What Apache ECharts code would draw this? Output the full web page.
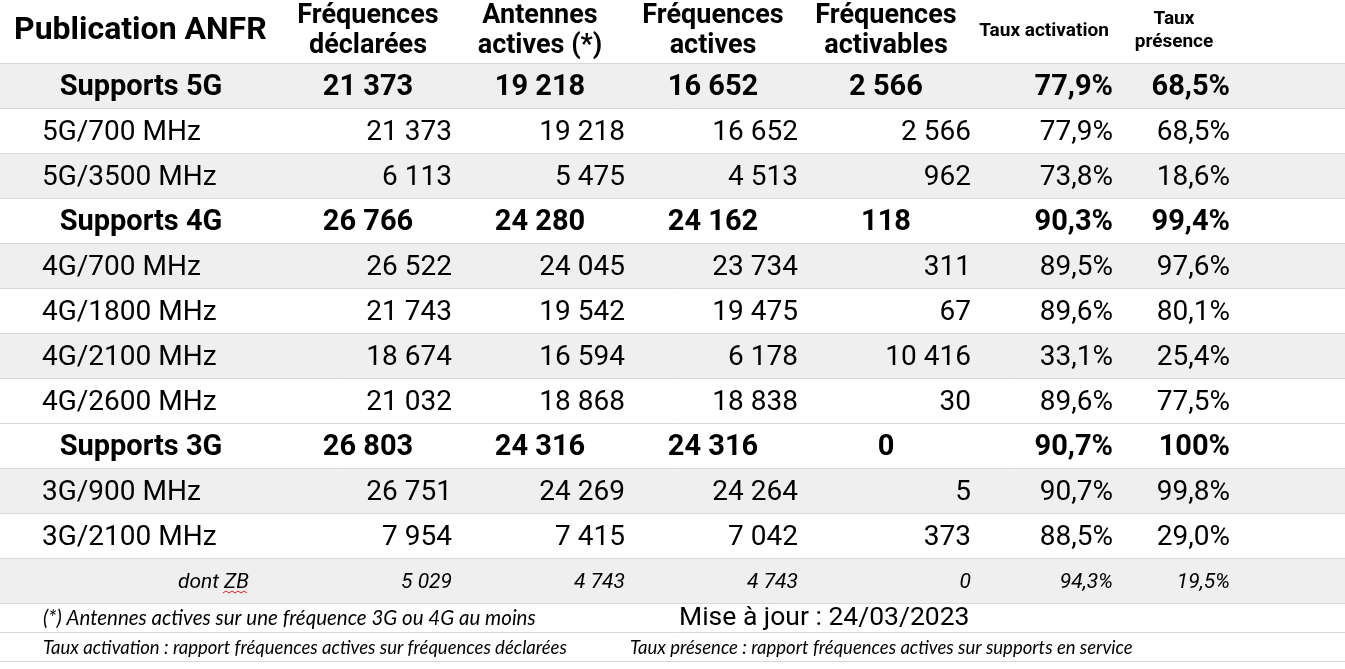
<!DOCTYPE html>
<html>
<head>
<meta charset="utf-8">
<title>Publication ANFR</title>
<script src="https://cdn.jsdelivr.net/npm/echarts@6/dist/echarts.min.js"></script>
<style>
  html, body { margin: 0; padding: 0; background: #fff; }
  #chart { width: 1345px; height: 669px; }
</style>
</head>
<body>
<div id="chart"></div>
<script>
// ---- data ----
const rowLabels = ['Supports 5G', '5G/700 MHz', '5G/3500 MHz', 'Supports 4G', '4G/700 MHz', '4G/1800 MHz',
  '4G/2100 MHz', '4G/2600 MHz', 'Supports 3G', '3G/900 MHz', '3G/2100 MHz', 'dont ZB'];
const rowKinds = ['total', 'detail', 'detail', 'total', 'detail', 'detail',
  'detail', 'detail', 'total', 'detail', 'detail', 'zb'];
const rowShaded = [1, 0, 1, 0, 1, 0, 1, 0, 0, 1, 0, 1];

const freqDeclarees = [21373, 21373, 6113, 26766, 26522, 21743, 18674, 21032, 26803, 26751, 7954, 5029];
const antennesActives = [19218, 19218, 5475, 24280, 24045, 19542, 16594, 18868, 24316, 24269, 7415, 4743];
const freqActives = [16652, 16652, 4513, 24162, 23734, 19475, 6178, 18838, 24316, 24264, 7042, 4743];
const freqActivables = [2566, 2566, 962, 118, 311, 67, 10416, 30, 0, 5, 373, 0];
const tauxActivation = [77.9, 77.9, 73.8, 90.3, 89.5, 89.6, 33.1, 89.6, 90.7, 90.7, 88.5, 94.3];
const tauxPresence = [68.5, 68.5, 18.6, 99.4, 97.6, 80.1, 25.4, 77.5, 100, 99.8, 29.0, 19.5];

const tableTitle = 'Publication ANFR';
const columnTitles = [['Fréquences', 'déclarées'], ['Antennes', 'actives (*)'], ['Fréquences', 'actives'],
  ['Fréquences', 'activables'], ['Taux activation'], ['Taux', 'présence']];
const noteRows = ['note1', 'note2'];
const noteAntennes = '(*) Antennes actives sur une fréquence 3G ou 4G au moins';
const noteUpdate = 'Mise à jour : 24/03/2023';
const noteActivation = 'Taux activation : rapport fréquences actives sur fréquences déclarées';
const notePresence = 'Taux présence : rapport fréquences actives sur supports en service';

// ---- layout (axis units = pixels across the page) ----
const COLS = [
  { center: 368, right: 452 },
  { center: 540, right: 625 },
  { center: 713, right: 798 },
  { center: 886, right: 971 },
  { center: 1044, right: 1113 },
  { center: 1174, right: 1230 }
];
const LABEL = { center: 141, left: 42, right: 249 };
const FONT = 'Roboto, "Noto Sans", sans-serif';
const NOTE_FONT = 'Lato, "Open Sans", sans-serif';
const SHADE = '#efefef';

const fmtInt = v => String(v).replace(/\B(?=(\d{3})+(?!\d))/g, '\u00a0');
const fmtPct = v => (v === 100 ? '100' : v.toFixed(1).replace('.', ',')) + '%';

const valueCols = [freqDeclarees, antennesActives, freqActives, freqActivables, tauxActivation, tauxPresence];

// build cells for the custom series
const cells = [];
rowLabels.forEach((label, r) => {
  const kind = rowKinds[r];
  if (kind === 'total') cells.push({ value: [LABEL.center, r], text: label, align: 'center', kind });
  else if (kind === 'zb') cells.push({ value: [LABEL.right, r], text: label, align: 'right', kind });
  else cells.push({ value: [LABEL.left, r], text: label, align: 'left', kind });
  valueCols.forEach((arr, c) => {
    const text = c < 4 ? fmtInt(arr[r]) : fmtPct(arr[r]);
    const centered = kind === 'total' && c < 4;
    cells.push({
      value: [centered ? COLS[c].center : COLS[c].right, r],
      text: text,
      align: centered ? 'center' : 'right',
      kind
    });
  });
});

function cellFont(kind) {
  if (kind === 'total') return 'bold 29px ' + FONT;
  if (kind === 'zb') return 'italic 21px ' + FONT;
  return '28px ' + FONT;
}

const chart = echarts.init(document.getElementById('chart'));

const textStyle = (text, font, align) => ({
  text, font, fill: '#000',
  textAlign: align, textVerticalAlign: 'middle', align: align, verticalAlign: 'middle'
});

const headerGraphics = [
  { type: 'text', x: 14, y: 31, style: textStyle(tableTitle, 'bold 32px ' + FONT, 'left') }
];
columnTitles.forEach((lines, c) => {
  const small = c >= 4;
  const size = small ? 19 : 27;
  const ys = lines.length === 1 ? [31] : (small ? [19, 42] : [16, 46]);
  lines.forEach((t, i) => {
    headerGraphics.push({
      type: 'text', x: COLS[c].center, y: ys[i],
      style: textStyle(t, 'bold ' + size + 'px ' + FONT, 'center')
    });
  });
});

const noteGraphics = [
  { type: 'text', x: 43, y: 618, style: textStyle(noteAntennes, 'italic 20.5px ' + NOTE_FONT, 'left') },
  { type: 'text', x: 679, y: 618, style: textStyle(noteUpdate, '26.5px ' + FONT, 'left') },
  { type: 'text', x: 43, y: 648, style: textStyle(noteActivation, 'italic 18.5px ' + NOTE_FONT, 'left') },
  { type: 'text', x: 630, y: 648, style: textStyle(notePresence, 'italic 18.5px ' + NOTE_FONT, 'left') },
  // spell-check squiggle under "ZB"
  { type: 'polyline', shape: { points: [[223, 593], [226, 591], [229, 593], [232, 591], [235, 593], [238, 591], [241, 593], [244, 591], [247, 593]] },
    style: { stroke: '#e02020', lineWidth: 1, fill: null } }
];

const splitStyle = { show: true, lineStyle: { color: '#d8d8d8', width: 1 } };

chart.setOption({
  animation: false,
  backgroundColor: '#fff',
  grid: [
    { left: 0, right: 0, top: 63, height: 540 },
    { left: 0, right: 0, top: 603, height: 58 }
  ],
  xAxis: [
    { type: 'value', min: 0, max: 1345, show: false, gridIndex: 0 },
    { type: 'value', min: 0, max: 1345, show: false, gridIndex: 1 }
  ],
  yAxis: [
    { type: 'category', data: rowLabels, inverse: true, gridIndex: 0,
      axisLine: { show: false }, axisTick: { show: false }, axisLabel: { show: false }, splitLine: splitStyle },
    { type: 'category', data: noteRows, inverse: true, gridIndex: 1,
      axisLine: { show: false }, axisTick: { show: false }, axisLabel: { show: false }, splitLine: splitStyle }
  ],
  series: [
    {
      type: 'custom',
      name: 'fond',
      z: -1,
      xAxisIndex: 0, yAxisIndex: 0,
      data: rowShaded.map((s, r) => [0, r, s]),
      encode: { x: 0, y: 1 },
      renderItem: (params, api) => {
        if (!api.value(2)) return null;
        const p0 = api.coord([0, api.value(1)]);
        const p1 = api.coord([1345, api.value(1)]);
        const h = api.size([0, 1])[1];
        return { type: 'rect', shape: { x: p0[0], y: p0[1] - h / 2, width: p1[0] - p0[0], height: h },
          style: { fill: SHADE } };
      }
    },
    {
      type: 'custom',
      name: 'cellules',
      xAxisIndex: 0, yAxisIndex: 0,
      data: cells.map(c => c.value),
      encode: { x: 0, y: 1 },
      renderItem: (params, api) => {
        const cell = cells[params.dataIndex];
        const pt = api.coord([api.value(0), api.value(1)]);
        return { type: 'text', x: pt[0], y: pt[1] + 2, style: textStyle(cell.text, cellFont(cell.kind), cell.align) };
      }
    }
  ],
  graphic: headerGraphics.concat(noteGraphics)
});
</script>
</body>
</html>
